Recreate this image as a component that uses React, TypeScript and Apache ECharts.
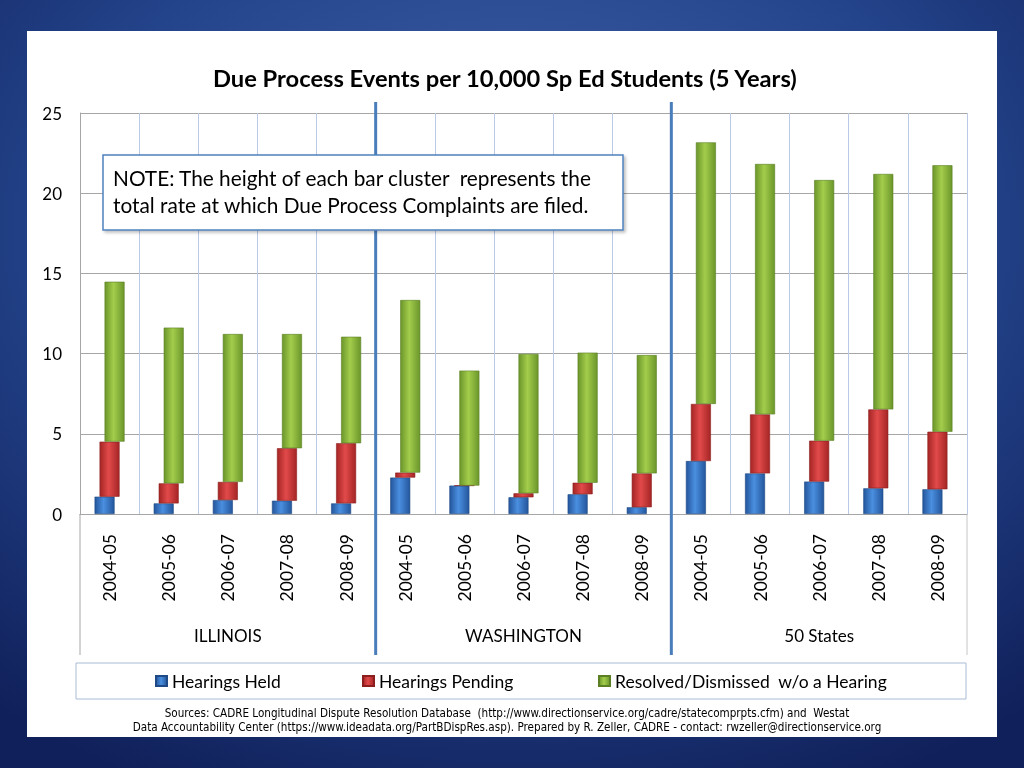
import React, { useEffect, useRef } from "react";
import * as echarts from "echarts";

const groups = ["ILLINOIS", "WASHINGTON", "50 States"];
const years = ["2004-05", "2005-06", "2006-07", "2007-08", "2008-09"];

// Illinois x5, Washington x5, 50 States x5
const held = [1.08, 0.66, 0.87, 0.83, 0.66, 2.27, 1.77, 1.04, 1.23, 0.42, 3.3, 2.53, 2.02, 1.6, 1.54];
const pending = [3.43, 1.25, 1.13, 3.27, 3.75, 0.31, 0, 0.25, 0.72, 2.11, 3.56, 3.68, 2.55, 4.92, 3.59];
const resolved = [9.97, 9.71, 9.22, 7.12, 6.64, 10.76, 7.17, 8.69, 8.11, 7.38, 16.31, 15.61, 16.25, 14.68, 16.61];

const yTicks = [0, 5, 10, 15, 20, 25];

const seriesNames = ["Hearings Held", "Hearings Pending", "Resolved/Dismissed  w/o a Hearing"];

const titleText = "Due Process Events per 10,000 Sp Ed Students (5 Years)";
const noteLines = [
  "NOTE: The height of each bar cluster  represents the",
  "total rate at which Due Process Complaints are filed.",
];
const sourceLines = [
  "Sources: CADRE Longitudinal Dispute Resolution Database  (http://www.directionservice.org/cadre/statecomprpts.cfm) and  Westat",
  "Data Accountability Center (https://www.ideadata.org/PartBDispRes.asp). Prepared by R. Zeller, CADRE - contact: rwzeller@directionservice.org",
];

const FONT = "Lato, 'Open Sans', sans-serif";

const GRID = { left: 80, right: 57, top: 113, bottom: 254 };

function grad(edge: string, mid: string) {
  return new echarts.graphic.LinearGradient(0, 0, 1, 0, [
    { offset: 0, color: edge },
    { offset: 0.45, color: mid },
    { offset: 1, color: edge },
  ]);
}

export default function App() {
  const ref = useRef<HTMLDivElement>(null);

  useEffect(() => {
    if (!ref.current) return;
    const chart = echarts.init(ref.current, null, { renderer: "svg", width: 1024, height: 768 });

    const categories = groups.flatMap((g) => years.map((y) => `${g}|${y}`));
    const base2 = held.slice();
    const base3 = held.map((h, i) => h + pending[i]);

    const plotW = 1024 - GRID.left - GRID.right;
    const plotBottom = 768 - GRID.bottom;
    const sepXs = [5, 10].map((k) => GRID.left + (plotW * k) / categories.length);

    const barCommon = {
      type: "bar" as const,
      barWidth: 20,
      barGap: "-75%",
      silent: true,
    };

    const option: any = {
      animation: false,
      backgroundColor: new echarts.graphic.RadialGradient(0.5, 0.3, 0.8, [
        { offset: 0, color: "#4263ab" },
        { offset: 0.55, color: "#23438a" },
        { offset: 1, color: "#10205a" },
      ]),
      textStyle: { fontFamily: FONT },
      title: {
        text: titleText,
        left: 208,
        top: 61,
        textStyle: { fontFamily: FONT, fontSize: 23.7, fontWeight: "bold", color: "#000" },
      },
      grid: { ...GRID, containLabel: false },
      legend: [
        { data: [seriesNames[0]], left: 150, top: 667 },
        { data: [seriesNames[1]], left: 357, top: 667 },
        { data: [seriesNames[2]], left: 593, top: 667 },
      ].map((l) => ({
        ...l,
        icon: "rect",
        itemWidth: 11,
        itemHeight: 10,
        itemGap: 4,
        selectedMode: false,
        textStyle: { fontFamily: FONT, fontSize: 17.5, color: "#000" },
      })),
      xAxis: [
        {
          type: "category",
          data: categories,
          axisLine: { show: true, lineStyle: { color: "#a6a6a6" } },
          axisTick: { show: false },
          axisLabel: {
            rotate: 90,
            margin: 20,
            interval: 0,
            fontSize: 17.5,
            color: "#000",
            fontFamily: FONT,
            formatter: (v: string) => v.split("|")[1],
          },
          splitLine: { show: true, interval: 0, lineStyle: { color: "#b9c9e6", width: 1 } },
        },
        {
          type: "category",
          data: groups,
          position: "bottom",
          axisLine: { show: false },
          axisTick: { show: false },
          splitLine: { show: false },
          axisLabel: { margin: 113, fontSize: 17, color: "#000", fontFamily: FONT },
        },
      ],
      yAxis: {
        type: "value",
        min: 0,
        max: 25,
        interval: 5,
        axisLine: { show: true, lineStyle: { color: "#a6a6a6" } },
        axisTick: { show: false },
        axisLabel: {
          margin: 18,
          fontSize: 17,
          color: "#000",
          fontFamily: FONT,
          formatter: (v: number) => (yTicks.includes(v) ? String(v) : ""),
        },
        splitLine: { show: true, lineStyle: { color: "#a6a6a6", width: 1 } },
      },
      series: [
        {
          ...barCommon,
          name: seriesNames[0],
          stack: "held",
          data: held,
          itemStyle: { color: grad("#24569c", "#4a8fe0"), borderColor: "#1f4a85", borderWidth: 0.6 },
        },
        {
          ...barCommon,
          name: "base2",
          stack: "pending",
          data: base2,
          itemStyle: { color: "rgba(0,0,0,0)" },
        },
        {
          ...barCommon,
          name: seriesNames[1],
          stack: "pending",
          data: pending,
          itemStyle: { color: grad("#a52525", "#e24a4a"), borderColor: "#8c1e1e", borderWidth: 0.6 },
        },
        {
          ...barCommon,
          name: "base3",
          stack: "resolved",
          data: base3,
          itemStyle: { color: "rgba(0,0,0,0)" },
        },
        {
          ...barCommon,
          name: seriesNames[2],
          stack: "resolved",
          data: resolved,
          itemStyle: { color: grad("#6b962b", "#a3cd4b"), borderColor: "#5b8024", borderWidth: 0.6 },
        },
      ],
      graphic: [
        {
          type: "rect",
          z: -10,
          shape: { x: 27, y: 31, width: 970, height: 706 },
          style: { fill: "#ffffff" },
          silent: true,
        },
        {
          type: "line",
          shape: { x1: GRID.left, y1: plotBottom, x2: GRID.left, y2: 655 },
          style: { stroke: "#a6a6a6", lineWidth: 1 },
        },
        {
          type: "line",
          shape: { x1: 1024 - GRID.right, y1: plotBottom, x2: 1024 - GRID.right, y2: 655 },
          style: { stroke: "#c6c6c6", lineWidth: 1 },
        },
        ...sepXs.map((x) => ({
          type: "line",
          z: 100,
          shape: { x1: x, y1: 102, x2: x, y2: 655 },
          style: { stroke: "#4a7ebb", lineWidth: 3 },
        })),
        {
          type: "rect",
          z: 100,
          shape: { x: 103, y: 155, width: 520, height: 75 },
          style: {
            fill: "#ffffff",
            stroke: "#4f81bd",
            lineWidth: 1.5,
            shadowBlur: 3,
            shadowOffsetX: 2,
            shadowOffsetY: 2,
            shadowColor: "rgba(0,0,0,0.25)",
          },
        },
        ...noteLines.map((t, i) => ({
          type: "text",
          z: 101,
          x: 113,
          y: 177 + i * 27,
          style: { text: t, fontSize: 20.8, fontFamily: FONT, fill: "#000", verticalAlign: "middle" },
        })),
        {
          type: "rect",
          shape: { x: 76, y: 663, width: 890, height: 36 },
          style: { fill: "none", stroke: "#a9bcd6", lineWidth: 1 },
        },
        ...sourceLines.map((t, i) => ({
          type: "text",
          x: 507,
          y: 713 + i * 14,
          style: {
            text: t,
            fontSize: 11.6,
            fontFamily: "'Liberation Sans Narrow', 'DejaVu Sans Condensed', sans-serif",
            fill: "#000",
            align: "center",
            verticalAlign: "middle",
          },
        })),
      ],
    };

    chart.setOption(option);
    return () => chart.dispose();
  }, []);

  return (
    <div
      ref={ref}
      style={{ position: "fixed", left: 0, top: 0, width: 1024, height: 768 }}
    />
  );
}
